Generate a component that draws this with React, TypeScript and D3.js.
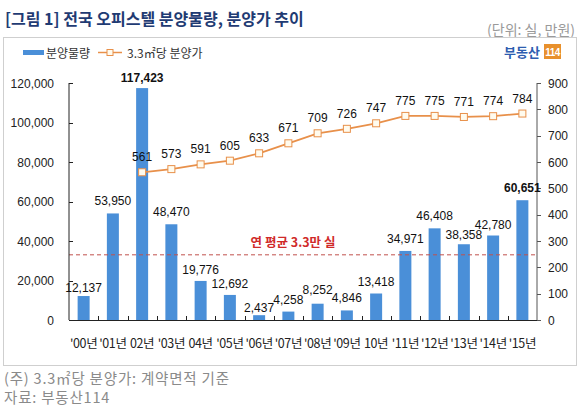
import React from "react";
import * as d3 from "d3";

const categories = ["'00년", "'01년", "02년", "'03년", "04년", "'05년", "'06년", "'07년", "'08년", "'09년", "10년", "'11년", "'12년", "'13년", "'14년", "'15년"];
const supply = [12137, 53950, 117423, 48470, 19776, 12692, 2437, 4258, 8252, 4846, 13418, 34971, 46408, 38358, 42780, 60651];
const priceCategories = ["02년", "'03년", "04년", "'05년", "'06년", "'07년", "'08년", "'09년", "10년", "'11년", "'12년", "'13년", "'14년", "'15년"];
const price = [561, 573, 591, 605, 633, 671, 709, 726, 747, 775, 775, 771, 774, 784];
const leftTicks = [0, 20000, 40000, 60000, 80000, 100000, 120000];
const rightTicks = [0, 100, 200, 300, 400, 500, 600, 700, 800, 900];
const averageSupply = 33000;
const boldLabels = [117423, 60651];

const W = 580;
const H = 411;
const FONT = "Arial, 'Liberation Sans', 'Noto Sans CJK KR', sans-serif";
const KFONT = "'Noto Sans CJK KR', 'Noto Sans', sans-serif";
const BAR = "#4a8fd8";
const LINE = "#e8904a";

// label offsets (layout tweaks)
const barLabelDy = [-4, -8, -6, -8, -7, -7, -3, -8, -10, -8, -7, -8, -8, -5, -7, -8];
const barLabelDx = [0, 0, 0, 0, 0, 0, 0, 0, 0, 0, 0, 0, 0, 0, 0, 0];

export default function App() {
  const left = 69;
  const right = 537;
  const top = 83;
  const bottom = 320;

  const x = d3.scaleBand<string>().domain(categories).range([left, right]).paddingInner(0).paddingOuter(0);
  const yL = d3.scaleLinear().domain([0, 120000]).range([bottom, top]);
  const yR = d3.scaleLinear().domain([0, 900]).range([bottom, top]);
  const barW = 12;
  const fmt = d3.format(",");
  const cx = (c: string) => (x(c) ?? 0) + x.bandwidth() / 2;

  const linePath = d3
    .line<number>()
    .x((_, i) => cx(priceCategories[i]))
    .y((d) => yR(d))(price);

  return (
    <svg width={W} height={H} style={{ position: "absolute", left: 0, top: 0, background: "#fff" }}>
      <rect x={0} y={0} width={W} height={H} fill="#fff" />
      <text x={5} y={25} fontFamily={KFONT} fontSize={16} fontWeight="bold" fill="#1f3b73">
        [그림 1] 전국 오피스텔 분양물량, 분양가 추이
      </text>
      <text x={575} y={35} textAnchor="end" fontFamily={KFONT} fontSize={14} fill="#9a9a9a">
        (단위: 실, 만원)
      </text>
      <rect x={3.5} y={37.5} width={573} height={328} fill="none" stroke="#cfcfcf" />

      {/* legend */}
      <rect x={23} y={50} width={21} height={5} fill={BAR} />
      <text x={46} y={58} fontFamily={KFONT} fontSize={12} fill="#333">분양물량</text>
      <line x1={98} x2={122} y1={52.5} y2={52.5} stroke={LINE} strokeWidth={1.5} />
      <rect x={107} y={49.5} width={6} height={6} fill="#fffbee" stroke={LINE} strokeWidth={1} />
      <text x={127} y={58} fontFamily={KFONT} fontSize={12} fill="#333">3.3㎡당 분양가</text>

      {/* logo */}
      <text x={540} y={57} textAnchor="end" fontFamily={KFONT} fontSize={13} fontWeight="bold" fill="#2d5db0">부동산</text>
      <rect x={544} y={44} width={17} height={15} fill="#e8902c" />
      <text x={552.5} y={55.5} textAnchor="middle" fontFamily={FONT} fontSize={10} fontWeight="bold" fill="#fff" letterSpacing={-0.5}>114</text>

      {/* bars */}
      {supply.map((v, i) => (
        <rect key={"b" + i} x={cx(categories[i]) - barW / 2} y={yL(v)} width={barW} height={bottom - yL(v)} fill={BAR} />
      ))}

      {/* average dashed line */}
      <line x1={left} x2={right} y1={yL(averageSupply)} y2={yL(averageSupply)} stroke="#c0504d" strokeWidth={1} strokeDasharray="4,3" />
      <text x={293} y={247} textAnchor="middle" fontFamily={KFONT} fontSize={12.5} fontWeight="bold" fill="#d02a2a">
        연 평균 3.3만 실
      </text>

      {/* axes */}
      <line x1={left} x2={left} y1={top} y2={bottom} stroke="#222" />
      <line x1={right} x2={right} y1={top} y2={bottom} stroke="#555" />
      <line x1={left} x2={right} y1={bottom + 0.5} y2={bottom + 0.5} stroke="#222" />
      {leftTicks.map((t) => (
        <g key={"l" + t}>
          <line x1={left} x2={left + 4} y1={Math.round(yL(t)) + 0.5} y2={Math.round(yL(t)) + 0.5} stroke="#222" />
          <text x={54} y={yL(t) + 4.5} textAnchor="end" fontFamily={FONT} fontSize={12} fill="#222">
            {fmt(t)}
          </text>
        </g>
      ))}
      {rightTicks.map((t) => (
        <g key={"r" + t}>
          <line x1={right} x2={right + 4} y1={Math.round(yR(t)) + 0.5} y2={Math.round(yR(t)) + 0.5} stroke="#555" />
          <text x={548} y={yR(t) + 4.5} fontFamily={FONT} fontSize={12} fill="#222">
            {t}
          </text>
        </g>
      ))}
      {categories.map((c, i) =>
        i === 0 ? null : (
          <line key={"xt" + i} x1={Math.round(x(c) ?? 0) + 0.5} x2={Math.round(x(c) ?? 0) + 0.5} y1={bottom} y2={bottom - 4} stroke="#222" />
        )
      )}
      {categories.map((c) => (
        <text key={"xl" + c} x={cx(c)} y={348} textAnchor="middle" fontFamily={KFONT} fontSize={12.5} fill="#222" letterSpacing={-0.4}>
          {c}
        </text>
      ))}

      {/* bar labels */}
      {supply.map((v, i) => (
        <text
          key={"bl" + i}
          x={cx(categories[i]) + barLabelDx[i]}
          y={yL(v) + barLabelDy[i]}
          textAnchor="middle"
          fontFamily={FONT}
          fontSize={12}
          fontWeight={boldLabels.includes(v) ? "bold" : "normal"}
          fill="#111"
        >
          {fmt(v)}
        </text>
      ))}

      {/* line */}
      <path d={linePath ?? ""} fill="none" stroke={LINE} strokeWidth={1.8} />
      {price.map((v, i) => (
        <rect key={"m" + i} x={cx(priceCategories[i]) - 3.5} y={yR(v) - 3.5} width={7} height={7} fill="#fffbee" stroke={LINE} strokeWidth={1} />
      ))}
      {price.map((v, i) => (
        <text key={"pl" + i} x={cx(priceCategories[i])} y={yR(v) - 11} textAnchor="middle" fontFamily={FONT} fontSize={12} fill="#111">
          {v}
        </text>
      ))}

      {/* footnotes */}
      <text x={4} y={384} fontFamily={KFONT} fontSize={14.5} fill="#8a8a8a" letterSpacing={0.8}>(주) 3.3㎡당 분양가: 계약면적 기준</text>
      <text x={4} y={403} fontFamily={KFONT} fontSize={14.5} fill="#8a8a8a" letterSpacing={0.8}>자료: 부동산114</text>
    </svg>
  );
}
